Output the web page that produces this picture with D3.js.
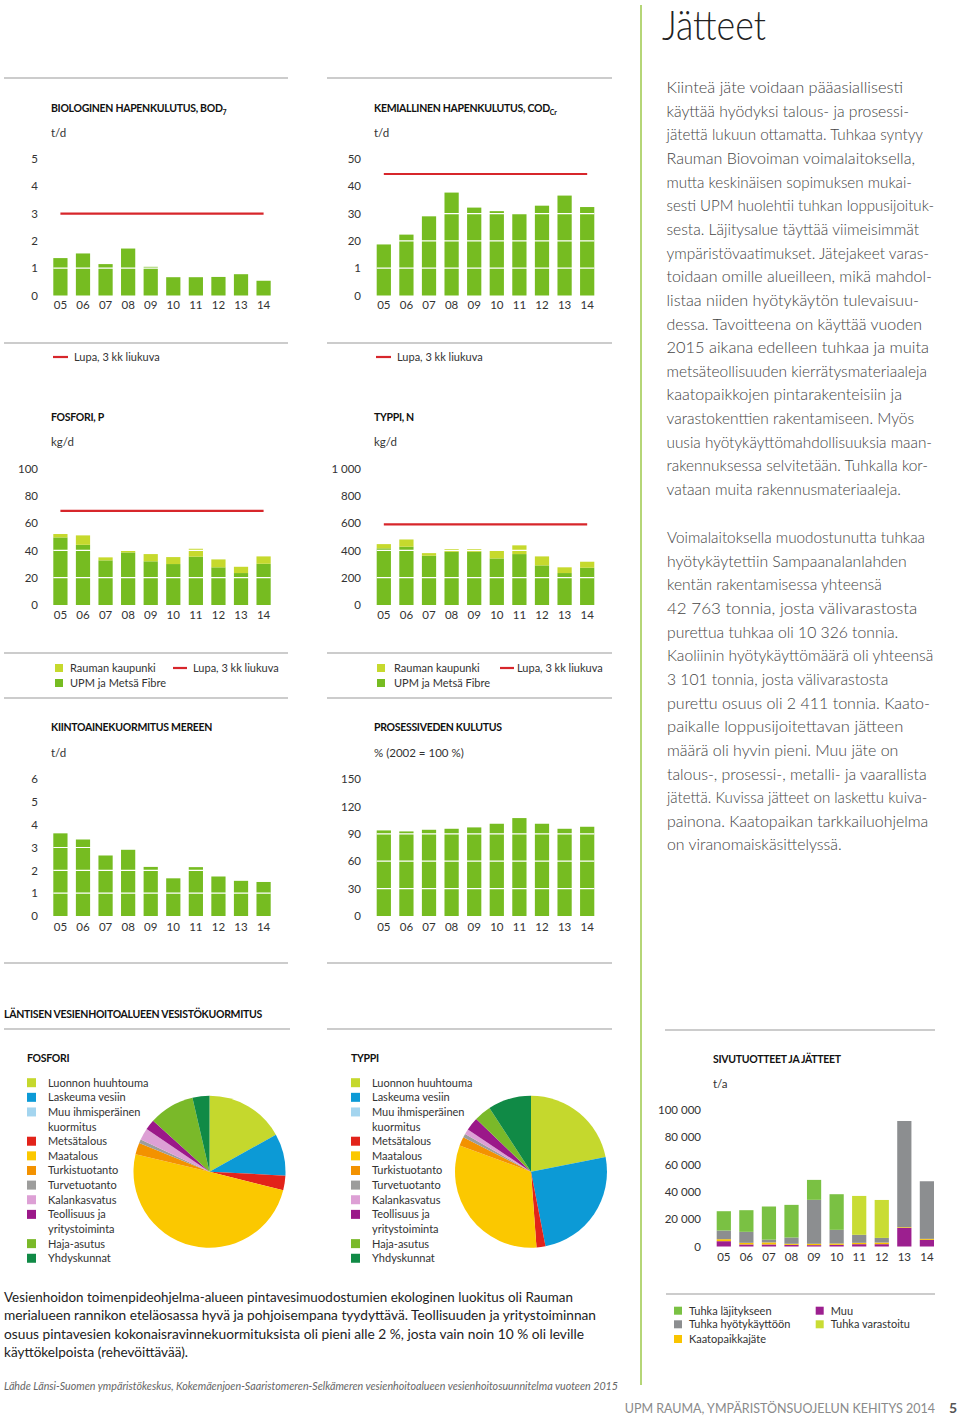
<!DOCTYPE html>
<html>
<head>
<meta charset="utf-8">
<script src="https://cdn.jsdelivr.net/npm/d3@7"></script>
<style>
body { margin: 0; background: #fff; }
svg { display: block; }
text { font-family: Lato, "Open Sans", sans-serif; }
</style>
</head>
<body>
<script>
// data
var years = ["05", "06", "07", "08", "09", "10", "11", "12", "13", "14"];

var bodValues = [1.37, 1.54, 1.15, 1.72, 1.05, 0.67, 0.67, 0.68, 0.78, 0.54];
var bodLimit = 3;
var bodTicks = [0, 1, 2, 3, 4, 5];
var bodTickLabels = ["0", "1", "2", "3", "4", "5"];

var codValues = [18.7, 22.3, 29.0, 37.7, 32.2, 30.9, 29.9, 32.9, 36.6, 32.4];
var codLimit = 44.5;
var codTicks = [0, 10, 20, 30, 40, 50];
var codTickLabels = ["0", "1", "20", "30", "40", "50"];

var pUpm = [49.5, 44.1, 32.7, 38.5, 32.0, 30.0, 35.4, 27.6, 23.4, 30.2];
var pCity = [2.5, 6.9, 2.2, 1.7, 5.3, 5.1, 5.8, 5.8, 4.6, 5.4];
var pLimit = 69;
var pTicks = [0, 20, 40, 60, 80, 100];
var pTickLabels = ["0", "20", "40", "60", "80", "100"];

var nUpm = [415, 427, 361, 390, 390, 341, 373, 290, 234, 273];
var nCity = [31, 53, 19, 20, 20, 57, 64, 66, 42, 44];
var nLimit = 590;
var nTicks = [0, 200, 400, 600, 800, 1000];
var nTickLabels = ["0", "200", "400", "600", "800", "1 000"];

var solidsValues = [3.62, 3.35, 2.65, 2.90, 2.15, 1.65, 2.14, 1.73, 1.54, 1.49];
var solidsTicks = [0, 1, 2, 3, 4, 5, 6];
var solidsTickLabels = ["0", "1", "2", "3", "4", "5", "6"];

var waterValues = [93.7, 92.6, 94.4, 95.5, 97.0, 101.0, 107.2, 101.0, 95.5, 97.7];
var waterTicks = [0, 30, 60, 90, 120, 150];
var waterTickLabels = ["0", "30", "60", "90", "120", "150"];

// sivutuotteet ja jätteet, t/a
var wasteMuu = [3900, 1500, 1500, 1200, 1000, 1200, 1700, 1700, 13650, 4900];
var wasteKaato = [1460, 1200, 1500, 800, 1000, 1000, 1000, 1200, 500, 700];
var wasteHyoty = [6340, 8050, 2000, 4600, 32200, 10000, 5850, 3400, 77800, 42200];
var wasteLajitys = [14150, 15850, 24300, 23900, 14600, 26100, 0, 0, 0, 0];
var wasteVarasto = [0, 0, 0, 0, 0, 0, 28500, 27800, 0, 0];
var wasteTicks = [0, 20000, 40000, 60000, 80000, 100000];
var wasteTickLabels = ["0", "20 000", "40 000", "60 000", "80 000", "100 000"];

// vesistökuormitus, osuudet %
var pieLabels = ["Luonnon huuhtouma", "Laskeuma vesiin", "Muu ihmisperäinen|kuormitus", "Metsätalous",
  "Maatalous", "Turkistuotanto", "Turvetuotanto", "Kalankasvatus", "Teollisuus ja|yritystoiminta",
  "Haja-asutus", "Yhdyskunnat"];
var pieColors = ["#c5d82d", "#0c9ad6", "#a4d5ef", "#e2231a", "#fbc800", "#f39200", "#9d9d9c",
  "#dda0d5", "#9b1889", "#7ab929", "#108a46"];
var phosphorusShares = [16.9, 8.9, 0, 3.1, 49.7, 2.5, 0.8, 2.5, 2.2, 9.7, 3.6];
var nitrogenShares = [21.9, 25.0, 0, 1.9, 31.7, 1.9, 0.8, 1.1, 2.8, 3.6, 9.2];

var green = "#76bc21", lime = "#c6d92d", red = "#d7262b", ruleCol = "#9a9a9a";

var svg = d3.select("body").append("svg")
  .attr("width", 960)
  .attr("height", 1419);

function rule(x1, x2, y) {
  svg.append("line").attr("x1", x1).attr("x2", x2).attr("y1", y).attr("y2", y)
    .attr("stroke", ruleCol).attr("stroke-width", 1.2);
}

function label(x, y, txt, size, opts) {
  opts = opts || {};
  var t = svg.append("text").attr("x", x).attr("y", y)
    .attr("font-size", size)
    .attr("fill", opts.fill || "#333")
    .attr("font-weight", opts.weight || 400)
    .attr("text-anchor", opts.anchor || "start")
    .text(txt);
  if (opts.italic) t.attr("font-style", "italic");
  if (opts.len) t.attr("textLength", opts.len).attr("lengthAdjust", "spacingAndGlyphs");
  return t;
}

function chartTitle(x, y, txt, sub) {
  var t = svg.append("text").attr("x", x).attr("y", y)
    .attr("font-size", 10.5).attr("font-weight", 700).attr("fill", "#111")
    .attr("letter-spacing", -0.3)
    .text(txt);
  if (sub) t.append("tspan").attr("font-size", 7).attr("dy", 3).text(sub);
}

function barChart(o) {
  var x = d3.scaleBand().domain(years).range([o.x0, o.x1]).paddingInner(0.37);
  var y = d3.scaleLinear().domain([0, o.max]).range([o.base, o.top]);
  var g = svg.append("g");

  var keys = o.series.map(function(s, j) { return "s" + j; });
  var rows = years.map(function(yr, i) {
    var r = { year: yr };
    o.series.forEach(function(s, j) { r["s" + j] = s.values[i]; });
    return r;
  });
  var layers = d3.stack().keys(keys)(rows);
  layers.forEach(function(layer, j) {
    g.selectAll(null).data(layer).enter().append("rect")
      .attr("x", function(d) { return x(d.data.year); })
      .attr("width", x.bandwidth())
      .attr("y", function(d) { return y(d[1]); })
      .attr("height", function(d) { return y(d[0]) - y(d[1]); })
      .attr("fill", o.series[j].color);
  });

  if (o.grid) {
    g.selectAll(null).data(o.ticks.filter(function(t) { return t > 0 && t < o.max; }))
      .enter().append("line")
      .attr("x1", o.x0).attr("x2", o.x1)
      .attr("y1", function(d) { return y(d); })
      .attr("y2", function(d) { return y(d); })
      .attr("stroke", "#fff").attr("stroke-width", 1.2);
  }

  if (o.limit != null) {
    g.append("line")
      .attr("x1", x(years[0]) + x.bandwidth() / 2)
      .attr("x2", x(years[years.length - 1]) + x.bandwidth() / 2)
      .attr("y1", y(o.limit)).attr("y2", y(o.limit))
      .attr("stroke", red).attr("stroke-width", 2.2);
  }

  var ya = g.append("g").attr("transform", "translate(" + o.labelX + ",0)")
    .call(d3.axisLeft(y).tickValues(o.ticks)
      .tickFormat(function(d, i) { return o.tickLabels[i]; })
      .tickSize(0).tickPadding(0));
  ya.select(".domain").remove();
  ya.attr("font-family", null).attr("font-size", 11.5);
  ya.selectAll("text").attr("fill", "#333");

  var xa = g.append("g").attr("transform", "translate(0," + (o.xLabelY - 4) + ")")
    .call(d3.axisBottom(x).tickSize(0).tickPadding(0));
  xa.select(".domain").remove();
  xa.attr("font-family", null).attr("font-size", 11.5);
  xa.selectAll("text").attr("fill", "#333");
}

// vertical green line
svg.append("line").attr("x1", 641).attr("x2", 641).attr("y1", 5).attr("y2", 1385)
  .attr("stroke", "#9cc94a").attr("stroke-width", 1.5);

var L = { x0: 53.3, x1: 270.7, labelX: 38, titleX: 51 };
var M = { x0: 376.7, x1: 594.3, labelX: 361, titleX: 374 };

// row 1
rule(4, 288, 78);
rule(327, 612, 78);
chartTitle(L.titleX, 112, "BIOLOGINEN HAPENKULUTUS, BOD", "7");
label(L.titleX, 137, "t/d", 11.5);
chartTitle(M.titleX, 112, "KEMIALLINEN HAPENKULUTUS, COD", "Cr");
label(M.titleX, 137, "t/d", 11.5);

barChart({ x0: L.x0, x1: L.x1, labelX: L.labelX, base: 295.5, top: 159, max: 5,
  ticks: bodTicks, tickLabels: bodTickLabels, grid: true, limit: bodLimit, xLabelY: 305,
  series: [{ values: bodValues, color: green }] });
barChart({ x0: M.x0, x1: M.x1, labelX: M.labelX, base: 295.5, top: 159, max: 50,
  ticks: codTicks, tickLabels: codTickLabels, grid: true, limit: codLimit, xLabelY: 305,
  series: [{ values: codValues, color: green }] });

rule(4, 288, 343);
rule(327, 612, 343);
[[53, 74], [376, 397]].forEach(function(p) {
  svg.append("line").attr("x1", p[0]).attr("x2", p[0] + 15).attr("y1", 357).attr("y2", 357)
    .attr("stroke", red).attr("stroke-width", 2.2);
  label(p[1], 361, "Lupa, 3 kk liukuva", 11);
});

// row 2
chartTitle(L.titleX, 421, "FOSFORI, P");
label(L.titleX, 446, "kg/d", 11.5);
chartTitle(M.titleX, 421, "TYPPI, N");
label(M.titleX, 446, "kg/d", 11.5);

barChart({ x0: L.x0, x1: L.x1, labelX: L.labelX, base: 605, top: 468.5, max: 100,
  ticks: pTicks, tickLabels: pTickLabels, grid: true, limit: pLimit, xLabelY: 615,
  series: [{ values: pUpm, color: green }, { values: pCity, color: lime }] });
barChart({ x0: M.x0, x1: M.x1, labelX: M.labelX, base: 605, top: 468.5, max: 1000,
  ticks: nTicks, tickLabels: nTickLabels, grid: true, limit: nLimit, xLabelY: 615,
  series: [{ values: nUpm, color: green }, { values: nCity, color: lime }] });

rule(4, 288, 653);
rule(327, 612, 653);
rule(4, 288, 698);
rule(327, 612, 698);
[[55, 70, 173, 193], [377, 394, 500, 517]].forEach(function(p) {
  svg.append("rect").attr("x", p[0]).attr("y", 664).attr("width", 8).attr("height", 8).attr("fill", lime);
  svg.append("rect").attr("x", p[0]).attr("y", 679).attr("width", 8).attr("height", 8).attr("fill", green);
  label(p[1], 672, "Rauman kaupunki", 11);
  label(p[1], 687, "UPM ja Metsä Fibre", 11);
  svg.append("line").attr("x1", p[2]).attr("x2", p[2] + 14).attr("y1", 668).attr("y2", 668)
    .attr("stroke", red).attr("stroke-width", 2.2);
  label(p[3], 672, "Lupa, 3 kk liukuva", 11);
});

// row 3
chartTitle(L.titleX, 731, "KIINTOAINEKUORMITUS MEREEN");
label(L.titleX, 757, "t/d", 11.5);
chartTitle(M.titleX, 731, "PROSESSIVEDEN KULUTUS");
label(M.titleX, 757, "% (2002 = 100 %)", 11.5);

barChart({ x0: L.x0, x1: L.x1, labelX: L.labelX, base: 916, top: 779, max: 6,
  ticks: solidsTicks, tickLabels: solidsTickLabels, grid: true, xLabelY: 926.5,
  series: [{ values: solidsValues, color: green }] });
barChart({ x0: M.x0, x1: M.x1, labelX: M.labelX, base: 916, top: 779, max: 150,
  ticks: waterTicks, tickLabels: waterTickLabels, grid: true, xLabelY: 926.5,
  series: [{ values: waterValues, color: green }] });

rule(4, 288, 963);
rule(327, 612, 963);

// pies
chartTitle(4, 1018, "LÄNTISEN VESIENHOITOALUEEN VESISTÖKUORMITUS");
rule(4, 290, 1029);
rule(327, 612, 1029);
rule(665, 935, 1030);

function pieChart(cx, cy, shares, titleX, title) {
  chartTitle(titleX, 1062, title);
  var pie = d3.pie().sort(null).value(function(d) { return d; });
  var arc = d3.arc().innerRadius(0).outerRadius(76);
  svg.append("g").attr("transform", "translate(" + cx + "," + cy + ")")
    .selectAll("path").data(pie(shares)).enter().append("path")
    .attr("d", arc)
    .attr("fill", function(d, i) { return pieColors[i]; });

  var row = 0;
  pieLabels.forEach(function(lab, i) {
    var parts = lab.split("|");
    var y = 1082.7 + row * 14.63;
    svg.append("rect").attr("x", titleX).attr("y", y - 4.5).attr("width", 9).attr("height", 9)
      .attr("fill", pieColors[i]);
    parts.forEach(function(p, k) {
      label(titleX + 21, y + 4 + k * 14.63, p, 11);
    });
    row += parts.length;
  });
}
pieChart(209.5, 1171.7, phosphorusShares, 27, "FOSFORI");
pieChart(531, 1171.7, nitrogenShares, 351, "TYPPI");

// sivutuotteet ja jätteet
chartTitle(713, 1063, "SIVUTUOTTEET JA JÄTTEET");
label(713, 1088, "t/a", 11.5);
var wasteSeries = [
  { name: "Muu", values: wasteMuu, color: "#9c1f8f" },
  { name: "Kaatopaikkajäte", values: wasteKaato, color: "#f9c400" },
  { name: "Tuhka hyötykäyttöön", values: wasteHyoty, color: "#8c8e90" },
  { name: "Tuhka läjitykseen", values: wasteLajitys, color: "#7ac143" },
  { name: "Tuhka varastoitu", values: wasteVarasto, color: "#c9dc34" }
];
barChart({ x0: 716.7, x1: 934, labelX: 701, base: 1246.5, top: 1110, max: 100000,
  ticks: wasteTicks, tickLabels: wasteTickLabels, grid: false, xLabelY: 1256.7,
  series: wasteSeries });

rule(666, 935, 1294);
var wasteLegend = [
  [674, 1310.7, "Tuhka läjitykseen", "#7ac143"],
  [674, 1324.3, "Tuhka hyötykäyttöön", "#8c8e90"],
  [674, 1339, "Kaatopaikkajäte", "#f9c400"],
  [815.7, 1310.7, "Muu", "#9c1f8f"],
  [815.7, 1324.3, "Tuhka varastoitu", "#c9dc34"]
];
wasteLegend.forEach(function(w) {
  svg.append("rect").attr("x", w[0]).attr("y", w[1] - 4).attr("width", 8).attr("height", 8).attr("fill", w[3]);
  label(w[0] + 15, w[1] + 4, w[2], 11);
});

// right column text
label(662, 40, "Jätteet", 42, { weight: 300, fill: "#222", len: 104 });

var para1 = [
  ["Kiinteä jäte voidaan pääasiallisesti", 903],
  ["käyttää hyödyksi talous- ja prosessi-", 909],
  ["jätettä lukuun ottamatta. Tuhkaa syntyy", 923],
  ["Rauman Biovoiman voimalaitoksella,", 915],
  ["mutta keskinäisen sopimuksen mukai-", 912],
  ["sesti UPM huolehtii tuhkan loppusijoituk-", 934],
  ["sesta. Läjitysalue täyttää viimeisimmät", 919],
  ["ympäristövaatimukset. Jätejakeet varas-", 929],
  ["toidaan omille alueilleen, mikä mahdol-", 932],
  ["listaa niiden hyötykäytön tulevaisuu-", 919],
  ["dessa. Tavoitteena on käyttää vuoden", 922],
  ["2015 aikana edelleen tuhkaa ja muita", 929],
  ["metsäteollisuuden kierrätysmateriaaleja", 927],
  ["kaatopaikkojen pintarakenteisiin ja", 902],
  ["varastokenttien rakentamiseen. Myös", 914],
  ["uusia hyötykäyttömahdollisuuksia maan-", 932],
  ["rakennuksessa selvitetään. Tuhkalla kor-", 928],
  ["vataan muita rakennusmateriaaleja.", 901]
];
var para2 = [
  ["Voimalaitoksella muodostunutta tuhkaa", 925],
  ["hyötykäytettiin Sampaanalanlahden", 906.7],
  ["kentän rakentamisessa yhteensä", 881.7],
  ["42 763 tonnia, josta välivarastosta", 917.3],
  ["purettua tuhkaa oli 10 326 tonnia.", 898.3],
  ["Kaoliinin hyötykäyttömäärä oli yhteensä", 933.3],
  ["3 101 tonnia, josta välivarastosta", 888.3],
  ["purettu osuus oli 2 411 tonnia. Kaato-", 930],
  ["paikalle loppusijoitettavan jätteen", 903.3],
  ["määrä oli hyvin pieni. Muu jäte on", 898.3],
  ["talous-, prosessi-, metalli- ja vaarallista", 926.7],
  ["jätettä. Kuvissa jätteet on laskettu kuiva-", 927.3],
  ["painona. Kaatopaikan tarkkailuohjelma", 928.3],
  ["on viranomaiskäsittelyssä.", 841.7]
];
para1.forEach(function(l, i) {
  label(666.5, 93 + i * 23.65, l[0], 16, { weight: 300, fill: "#444", len: l[1] - 666.5 });
});
para2.forEach(function(l, i) {
  label(667, 543 + i * 23.65, l[0], 16, { weight: 300, fill: "#444", len: l[1] - 667 });
});

// bottom text
var bottomLines = [
  ["Vesienhoidon toimenpideohjelma-alueen pintavesimuodostumien ekologinen luokitus oli Rauman", 573],
  ["merialueen rannikon eteläosassa hyvä ja pohjoisempana tyydyttävä. Teollisuuden ja yritystoiminnan", 596],
  ["osuus pintavesien kokonaisravinnekuormituksista oli pieni alle 2 %, josta vain noin 10 % oli leville", 584],
  ["käyttökelpoista (rehevöittävää).", 188]
];
bottomLines.forEach(function(l, i) {
  label(4, 1302 + i * 18.3, l[0], 14, { fill: "#222", len: l[1] - 4 });
});
label(4, 1390, "Lähde Länsi-Suomen ympäristökeskus, Kokemäenjoen-Saaristomeren-Selkämeren vesienhoitoalueen vesienhoitosuunnitelma vuoteen 2015",
  11, { italic: true, fill: "#666", len: 614 });
label(935, 1413, "UPM RAUMA, YMPÄRISTÖNSUOJELUN KEHITYS 2014", 12.5, { fill: "#8a8a8a", anchor: "end" });
label(953, 1413, "5", 14, { fill: "#555", weight: 700, anchor: "middle" });
</script>
</body>
</html>
